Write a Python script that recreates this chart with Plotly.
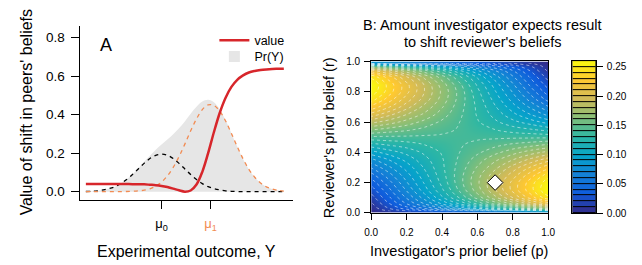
import plotly.graph_objects as go

# ---------------- Panel A data ----------------
outcome_y = [-3.25, -3.0, -2.75, -2.5, -2.25, -2.0, -1.75, -1.5, -1.25, -1.0, -0.75, -0.5, -0.25,
             0.0, 0.25, 0.5, 0.75, 1.0, 1.25, 1.5, 1.75, 2.0, 2.25, 2.5, 2.75, 3.0, 3.25, 3.5,
             3.75, 4.0, 4.25, 4.5, 4.75, 5.0, 5.25]
pr_null = [0.001, 0.002, 0.004, 0.009, 0.016, 0.026, 0.042, 0.063, 0.089, 0.118, 0.147, 0.172, 0.189,
           0.195, 0.189, 0.172, 0.147, 0.118, 0.089, 0.063, 0.042, 0.026, 0.016, 0.009, 0.004, 0.002,
           0.001, 0.000, 0.000, 0.000, 0.000, 0.000, 0.000, 0.000, 0.000]
pr_alt = [0.000, 0.000, 0.000, 0.000, 0.000, 0.000, 0.000, 0.001, 0.002, 0.004, 0.008, 0.015, 0.029,
          0.050, 0.082, 0.126, 0.182, 0.247, 0.316, 0.378, 0.426, 0.451, 0.448, 0.418, 0.367, 0.302,
          0.234, 0.170, 0.116, 0.075, 0.045, 0.025, 0.014, 0.007, 0.003]
pr_total = [0.001, 0.002, 0.004, 0.009, 0.016, 0.026, 0.042, 0.064, 0.091, 0.122, 0.155, 0.187, 0.218,
            0.245, 0.271, 0.298, 0.329, 0.365, 0.405, 0.441, 0.468, 0.477, 0.464, 0.427, 0.371, 0.304,
            0.235, 0.170, 0.116, 0.075, 0.045, 0.025, 0.014, 0.007, 0.003]
shift_value = [0.040, 0.040, 0.040, 0.040, 0.040, 0.040, 0.040, 0.0395, 0.039, 0.039, 0.038, 0.036, 0.034,
               0.030, 0.024, 0.016, 0.007, 0.000, 0.006, 0.037, 0.103, 0.200, 0.310, 0.410, 0.488, 0.544,
               0.581, 0.604, 0.619, 0.627, 0.632, 0.635, 0.637, 0.638, 0.639]
mu_ticks = [0.0, 2.1]
mu_labels = ["μ<sub>0</sub>", "<span style='color:#f28b52'>μ<sub>1</sub></span>"]
a_yticks = [0.0, 0.2, 0.4, 0.6, 0.8]
a_yticklabels = ["0.0", "0.2", "0.4", "0.6", "0.8"]

# ---------------- Panel B data ----------------
p_grid = [0.0, 0.1, 0.2, 0.3, 0.4, 0.5, 0.6, 0.7, 0.8, 0.9, 1.0]
r_grid = [0.01, 0.03, 0.06, 0.10, 0.15, 0.20, 0.25, 0.30, 0.35, 0.40, 0.45, 0.50,
          0.55, 0.60, 0.65, 0.70, 0.75, 0.80, 0.85, 0.90, 0.94, 0.97, 0.99]
shift_grid = [
    [0.001, 0.009, 0.018, 0.026, 0.034, 0.042, 0.051, 0.059, 0.067, 0.076, 0.084],
    [0.004, 0.020, 0.035, 0.051, 0.067, 0.083, 0.099, 0.115, 0.131, 0.147, 0.163],
    [0.008, 0.029, 0.050, 0.070, 0.091, 0.111, 0.132, 0.153, 0.173, 0.194, 0.214],
    [0.015, 0.038, 0.061, 0.084, 0.108, 0.131, 0.154, 0.177, 0.200, 0.224, 0.247],
    [0.024, 0.047, 0.071, 0.095, 0.118, 0.142, 0.165, 0.189, 0.213, 0.236, 0.260],
    [0.034, 0.056, 0.079, 0.101, 0.123, 0.146, 0.168, 0.190, 0.213, 0.235, 0.257],
    [0.046, 0.066, 0.086, 0.106, 0.126, 0.146, 0.166, 0.186, 0.205, 0.225, 0.245],
    [0.061, 0.078, 0.094, 0.111, 0.128, 0.144, 0.161, 0.177, 0.194, 0.211, 0.227],
    [0.077, 0.090, 0.103, 0.116, 0.129, 0.142, 0.155, 0.168, 0.180, 0.193, 0.206],
    [0.096, 0.105, 0.113, 0.122, 0.131, 0.140, 0.148, 0.157, 0.166, 0.175, 0.183],
    [0.116, 0.121, 0.125, 0.130, 0.134, 0.139, 0.143, 0.147, 0.152, 0.156, 0.161],
    [0.138, 0.138, 0.138, 0.138, 0.138, 0.138, 0.138, 0.138, 0.138, 0.138, 0.138],
    [0.161, 0.156, 0.152, 0.147, 0.143, 0.139, 0.134, 0.130, 0.125, 0.121, 0.116],
    [0.183, 0.175, 0.166, 0.157, 0.148, 0.140, 0.131, 0.122, 0.113, 0.105, 0.096],
    [0.206, 0.193, 0.180, 0.168, 0.155, 0.142, 0.129, 0.116, 0.103, 0.090, 0.077],
    [0.227, 0.211, 0.194, 0.177, 0.161, 0.144, 0.128, 0.111, 0.094, 0.078, 0.061],
    [0.245, 0.225, 0.205, 0.186, 0.166, 0.146, 0.126, 0.106, 0.086, 0.066, 0.046],
    [0.257, 0.235, 0.213, 0.190, 0.168, 0.146, 0.123, 0.101, 0.079, 0.056, 0.034],
    [0.260, 0.236, 0.213, 0.189, 0.165, 0.142, 0.118, 0.095, 0.071, 0.047, 0.024],
    [0.247, 0.224, 0.200, 0.177, 0.154, 0.131, 0.108, 0.084, 0.061, 0.038, 0.015],
    [0.214, 0.194, 0.173, 0.153, 0.132, 0.111, 0.091, 0.070, 0.050, 0.029, 0.008],
    [0.163, 0.147, 0.131, 0.115, 0.099, 0.083, 0.067, 0.051, 0.035, 0.020, 0.004],
    [0.084, 0.076, 0.067, 0.059, 0.051, 0.042, 0.034, 0.026, 0.018, 0.009, 0.001],
]
marker_p = [0.7]
marker_r = [0.2]
b_ticks = [0.0, 0.2, 0.4, 0.6, 0.8, 1.0]
b_ticklabels = ["0.0", "0.2", "0.4", "0.6", "0.8", "1.0"]
cbar_levels = [0.005, 0.015, 0.025, 0.035, 0.045, 0.055, 0.065, 0.075, 0.085, 0.095, 0.105, 0.115, 0.125,
               0.135, 0.145, 0.155, 0.165, 0.175, 0.185, 0.195, 0.205, 0.215, 0.225, 0.235, 0.245, 0.255]
cbar_ticks = [0.0, 0.05, 0.10, 0.15, 0.20, 0.25]
cbar_ticklabels = ["0.00", "0.05", "0.10", "0.15", "0.20", "0.25"]

parula = [[0.0, "#352a87"], [0.125, "#0f5cdd"], [0.25, "#1481d6"], [0.375, "#06a4ca"],
          [0.5, "#2eb7a4"], [0.625, "#87bf77"], [0.75, "#d1bb59"], [0.875, "#fec832"],
          [1.0, "#f9fb0e"]]

W, H = 642, 265
FONT = "Liberation Sans"
ORANGE = "#f28b52"
RED = "#d7262b"


def px(x):
    return x / W


def py(y):
    return 1 - y / H


fig = go.Figure()

# Panel A
fig.add_trace(go.Scatter(x=outcome_y, y=pr_total, mode="lines", line=dict(width=0, shape="spline"),
                         fill="tozeroy", fillcolor="#e6e6e6", showlegend=False, hoverinfo="skip"))
fig.add_trace(go.Scatter(x=outcome_y, y=pr_null, mode="lines",
                         line=dict(color="black", width=1.3, dash="4px,4px", shape="spline"),
                         showlegend=False))
fig.add_trace(go.Scatter(x=outcome_y, y=pr_alt, mode="lines",
                         line=dict(color=ORANGE, width=1.3, dash="4px,4px", shape="spline"),
                         showlegend=False))
fig.add_trace(go.Scatter(x=outcome_y, y=shift_value, mode="lines", name="value", legend="legend",
                         line=dict(color=RED, width=2.5, shape="spline")))
fig.add_trace(go.Scatter(x=[None], y=[None], mode="markers", name="Pr(Y)", legend="legend2",
                         marker=dict(symbol="square", size=11, color="#e6e6e6")))

# Panel B
fig.add_trace(go.Heatmap(x=p_grid, y=r_grid, z=shift_grid, colorscale=parula, zmin=0, zmax=0.26,
                         zsmooth="best", showscale=False, xaxis="x2", yaxis="y2"))
fig.add_trace(go.Contour(x=p_grid, y=r_grid, z=shift_grid, xaxis="x2", yaxis="y2",
                         contours=dict(start=0.01, end=0.25, size=0.01, coloring="none"),
                         line=dict(color="rgba(255,255,255,0.5)", width=1, dash="dot", smoothing=1),
                         showscale=False, showlegend=False, hoverinfo="skip"))
fig.add_trace(go.Scatter(x=marker_p, y=marker_r, mode="markers", xaxis="x2", yaxis="y2",
                         marker=dict(symbol="diamond", size=12, color="white",
                                     line=dict(color="black", width=1)),
                         showlegend=False))

# Colour key (discrete bands)
fig.add_trace(go.Heatmap(x=[0.5], y=cbar_levels, z=[[v] for v in cbar_levels], colorscale=parula,
                         zmin=0, zmax=0.26, ygap=1, showscale=False, xaxis="x3", yaxis="y3"))

axis_common = dict(showgrid=False, zeroline=False, showline=True, linecolor="black", linewidth=1,
                   ticks="outside", tickcolor="black", tickwidth=1, fixedrange=True)
legend_common = dict(xanchor="left", yanchor="middle", bgcolor="rgba(0,0,0,0)",
                     font=dict(size=12.5), itemwidth=30, tracegroupgap=0)

fig.update_layout(
    width=W, height=H, margin=dict(l=0, r=0, t=0, b=0),
    paper_bgcolor="white", plot_bgcolor="white",
    font=dict(family=FONT, color="black"),
    xaxis=dict(axis_common, domain=[px(75), px(292)], range=[-3.486, 5.628], anchor="y",
               tickvals=mu_ticks, ticktext=mu_labels, ticklen=8, tickfont=dict(size=13),
               ticklabelstandoff=4),
    yaxis=dict(axis_common, domain=[py(202.3), py(21.7)], range=[-0.0415, 0.861], anchor="x",
               tickvals=a_yticks, ticktext=a_yticklabels, ticklen=8, tickfont=dict(size=13.5),
               ticklabelstandoff=4),
    xaxis2=dict(axis_common, domain=[px(372.3), px(553.3)], range=[0, 1], anchor="y2", mirror=True,
                tickvals=b_ticks, ticktext=b_ticklabels, ticklen=6, tickfont=dict(size=10),
                ticklabelstandoff=4),
    yaxis2=dict(axis_common, domain=[py(216), py(58.7)], range=[0, 1], anchor="x2", mirror=True,
                tickvals=b_ticks, ticktext=b_ticklabels, ticklen=6, tickfont=dict(size=10),
                ticklabelstandoff=2),
    xaxis3=dict(axis_common, domain=[px(578), px(602)], range=[0, 1], anchor="y3", mirror=True,
                ticks="", showticklabels=False),
    yaxis3=dict(axis_common, domain=[py(216.3), py(58.3)], range=[0, 0.26], anchor="x3", mirror=True,
                side="right", tickvals=cbar_ticks, ticktext=cbar_ticklabels, ticklen=6,
                tickfont=dict(size=10), ticklabelstandoff=2),
    legend=dict(legend_common, x=px(212), y=py(37)),
    legend2=dict(legend_common, x=px(212), y=py(54)),
    shapes=[dict(type="rect", xref="x3 domain", yref="y3 domain", x0=0, x1=1, y0=0, y1=1,
                 fillcolor="black", line=dict(width=0), layer="below")],
    annotations=[
        dict(text="A", x=px(101.5), y=py(42), xref="paper", yref="paper", showarrow=False,
             font=dict(size=18), xanchor="center", yanchor="middle"),
        dict(text="Value of shift in peers' beliefs", x=px(19.5), y=py(111.5), xref="paper",
             yref="paper", showarrow=False, textangle=-90, font=dict(size=16),
             xanchor="center", yanchor="middle"),
        dict(text="Experimental outcome, Y", x=px(183.5), y=py(256), xref="paper", yref="paper",
             showarrow=False, font=dict(size=16), xanchor="center", yanchor="middle"),
        dict(text="Reviewer's prior belief (r)", x=px(329), y=py(137.5), xref="paper", yref="paper",
             showarrow=False, textangle=-90, font=dict(size=14.5), xanchor="center", yanchor="middle"),
        dict(text="Investigator's prior belief (p)", x=px(462.5), y=py(256), xref="paper",
             yref="paper", showarrow=False, font=dict(size=14.5), xanchor="center", yanchor="middle"),
        dict(text="B: Amount investigator expects result", x=px(486.5), y=py(21), xref="paper",
             yref="paper", showarrow=False, font=dict(size=14.5), xanchor="center", yanchor="middle"),
        dict(text="to shift reviewer's beliefs", x=px(486.5), y=py(38.5), xref="paper",
             yref="paper", showarrow=False, font=dict(size=14.5), xanchor="center", yanchor="middle"),
    ],
)

page_css = ("var s=document.createElement('style');"
            "s.innerHTML='html,body{margin:0;padding:0;overflow:hidden;width:642px;height:265px;}';"
            "document.head.appendChild(s);")
fig.write_html("out.html", config={"displayModeBar": False}, post_script=page_css)
